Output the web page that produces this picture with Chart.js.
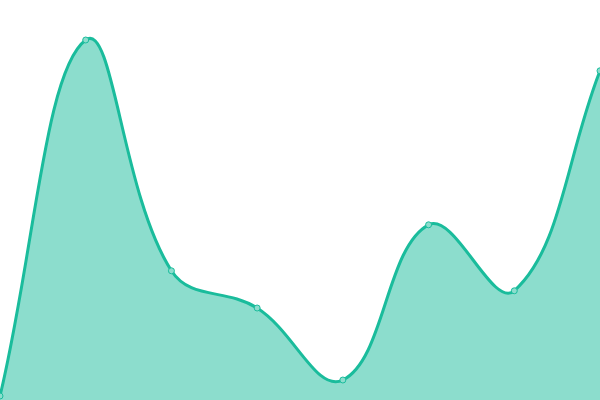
<!DOCTYPE html>
<html>
<head>
<meta charset="utf-8">
<script src="https://cdn.jsdelivr.net/npm/chart.js@4/dist/chart.umd.min.js"></script>
<style>
  html, body { margin: 0; padding: 0; background: #fff; }
  #wrap { width: 600px; height: 400px; }
</style>
</head>
<body>
<div id="wrap"><canvas id="chart"></canvas></div>
<script>
const labels = ['1', '2', '3', '4', '5', '6', '7', '8'];
const values = [1, 90, 32.3, 23, 5, 43.8, 27.3, 82.3];
const yMin = 0;
const yMax = 100;

const ctx = document.getElementById('chart');
new Chart(ctx, {
  type: 'line',
  data: {
    labels: labels,
    datasets: [{
      data: values,
      borderColor: '#1abc9c',
      backgroundColor: 'rgba(26, 188, 156, 0.5)',
      borderWidth: 3,
      fill: true,
      tension: 0.4,
      pointRadius: 3,
      pointBorderWidth: 1,
      pointBackgroundColor: 'rgba(140, 221, 205, 1)',
      pointBorderColor: '#1abc9c'
    }]
  },
  options: {
    responsive: true,
    maintainAspectRatio: false,
    animation: false,
    layout: { padding: 0, autoPadding: false },
    plugins: {
      legend: { display: false },
      tooltip: { enabled: false }
    },
    scales: {
      x: { display: false },
      y: { display: false, min: yMin, max: yMax }
    }
  }
});
</script>
</body>
</html>
